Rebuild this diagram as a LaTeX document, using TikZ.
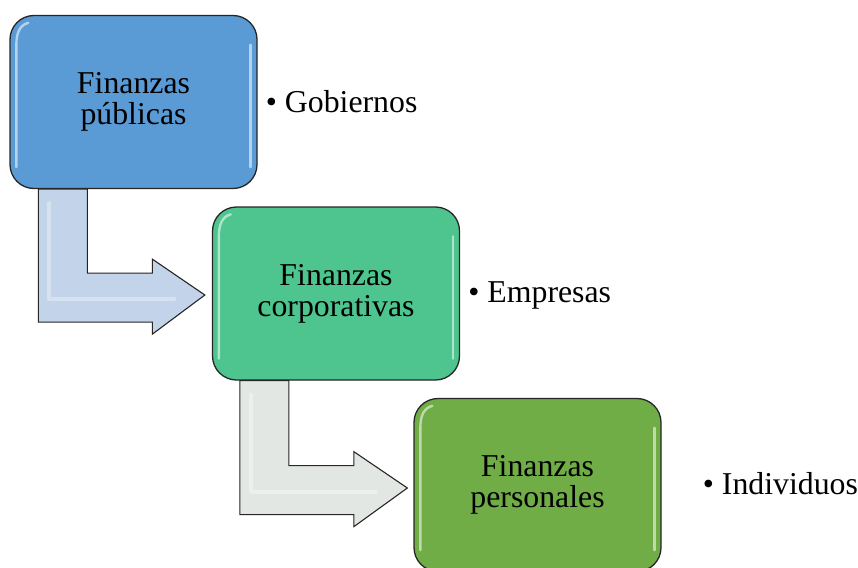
\documentclass[tikz,border=0pt]{standalone}
\usepackage{fontspec}
\setmainfont{Liberation Serif}
\usetikzlibrary{calc}
\definecolor{cA}{HTML}{5B9BD5}
\definecolor{cB}{HTML}{4EC48E}
\definecolor{cC}{HTML}{70AD47}
\definecolor{arrA}{HTML}{C3D3EA}
\definecolor{arrB}{HTML}{E3E7E3}
\definecolor{edge}{HTML}{262626}
\tikzset{
  fbox/.style={draw=edge, line width=1.3pt, rounded corners=24pt,
    minimum width=247pt, minimum height=173pt, align=center,
    font=\fontsize{31.8}{31}\selectfont, inner sep=0pt},
  lbl/.style={anchor=base west, inner sep=0pt, font=\fontsize{31.8}{31}\selectfont},
  bent/.style={draw=edge, line width=1.1pt, line join=miter},
  gloss/.style={white, opacity=0.55, line width=2.4pt, line cap=round}
}
\begin{document}
\begin{tikzpicture}[x=1pt,y=-1pt]
\useasboundingbox (0,0) rectangle (858,567);
% boxes
\node[fbox, fill=cA] (b1) at (133.5,102) {Finanzas\\públicas};
\node[fbox, fill=cB] (b2) at (336,293.5) {Finanzas\\corporativas};
\node[fbox, fill=cC] (b3) at (537.5,485) {Finanzas\\personales};
% gloss highlights
\foreach \b in {b1,b2,b3}{
  \draw[gloss] ($(\b.north west)+(19,8)$) .. controls ($(\b.north west)+(11,10)$) and ($(\b.north west)+(7,17)$) .. ($(\b.north west)+(7,30)$) -- ($(\b.south west)+(7,-22)$);
  \draw[gloss] ($(\b.north east)+(-7,30)$) -- ($(\b.south east)+(-7,-22)$);
}
% bent arrows
\draw[bent, fill=arrA]
  ($(b1.south west)+(29,0)$) -- ($(b1.south west)+(78,0)$)
  -- ($(b1.south west)+(78,84)$) -- ($(b1.south west)+(143,84)$)
  -- ($(b1.south west)+(143,70)$) -- ($(b2.west)+(-7,1.5)$)
  -- ($(b1.south west)+(143,145)$) -- ($(b1.south west)+(143,133)$)
  -- ($(b1.south west)+(29,133)$) -- cycle;
\draw[bent, fill=arrB]
  ($(b2.south west)+(28,0)$) -- ($(b2.south west)+(77,0)$)
  -- ($(b2.south west)+(77,85)$) -- ($(b2.south west)+(142,85)$)
  -- ($(b2.south west)+(142,71)$) -- ($(b3.west)+(-6,3)$)
  -- ($(b2.south west)+(142,146)$) -- ($(b2.south west)+(142,134)$)
  -- ($(b2.south west)+(28,134)$) -- cycle;
% arrow highlights
\draw[white, opacity=0.35, line width=4pt, line cap=round, line join=round]
  ($(b1.south west)+(40,14)$) -- ($(b1.south west)+(40,110)$) -- ($(b1.south west)+(165,110)$);
\draw[white, opacity=0.35, line width=4pt, line cap=round, line join=round]
  ($(b2.south west)+(39,14)$) -- ($(b2.south west)+(39,111)$) -- ($(b2.south west)+(164,111)$);
% labels
\node[lbl] (l1) at ($(b1.east)+(8,10)$) {• Gobiernos};
\node[lbl] (l2) at ($(b2.east)+(8,8.5)$) {• Empresas};
\node[lbl] (l3) at ($(b3.east)+(41,9)$) {• Individuos};
\end{tikzpicture}
\end{document}
